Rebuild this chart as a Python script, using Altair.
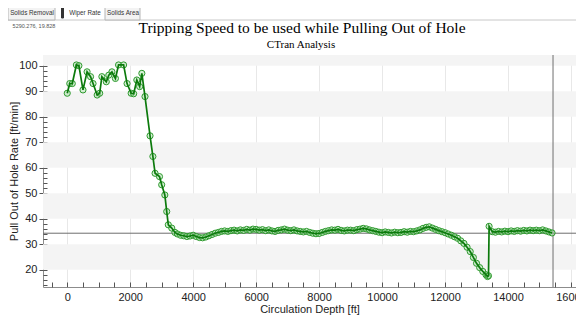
import altair as alt
import pandas as pd

# ---- data ----
depth = [0, 80, 160, 290, 370, 500, 630, 740, 820, 950, 1030, 1100, 1240, 1320, 1420,
         1530, 1630, 1790, 1900, 2030, 2110, 2210, 2300, 2370, 2470, 2630, 2720, 2790,
         2930, 3000, 3100, 3160, 3210, 3320, 3420,
         3500, 3600, 3700, 3800, 3900, 4000, 4100, 4200, 4300, 4400, 4500, 4600, 4700,
         4800, 4900, 5000, 5100, 5200, 5300, 5400, 5500, 5600, 5700, 5800, 5900, 6000,
         6100, 6200, 6300, 6400, 6500, 6600, 6700, 6800, 6900, 7000, 7100, 7200, 7300,
         7400, 7500, 7600, 7700, 7800, 7900, 8000, 8100, 8200, 8300, 8400, 8500, 8600,
         8700, 8800, 8900, 9000, 9100, 9200, 9300, 9400, 9500, 9600, 9700, 9800, 9900,
         10000, 10100, 10200, 10300, 10400, 10500, 10600, 10700, 10800, 10900, 11000,
         11100, 11200, 11300, 11400, 11500, 11600, 11700, 11800, 11900, 12000, 12100,
         12200, 12300, 12400, 12500, 12600, 12700, 12800, 12900, 13000, 13100, 13200,
         13300, 13350, 13380, 13400, 13500, 13600, 13700, 13800, 13900, 14000, 14100,
         14200, 14300, 14400, 14500, 14600, 14700, 14800, 14900, 15000, 15100, 15200,
         15300, 15400]
rate = [89.2, 93.0, 93.0, 100.3, 100.0, 90.5, 97.6, 95.7, 93.0, 88.5, 89.2, 95.7, 93.7,
        96.3, 97.6, 95.0, 100.3, 100.3, 93.0, 89.2, 89.0, 94.4, 91.8, 97.0, 87.9, 72.5,
        64.4, 57.8, 56.5, 53.3, 49.3, 42.8, 37.6, 36.3, 34.6,
        34.0, 33.5, 33.3, 33.0, 33.2, 33.5, 33.0, 32.6, 32.5, 32.8, 33.3, 33.8, 34.3,
        34.6, 35.0, 35.2, 35.0, 35.3, 35.5, 35.2, 35.6, 35.4, 35.8, 35.5, 35.9, 35.8,
        35.5, 35.7, 35.3, 35.6, 35.2, 35.0, 35.4, 35.6, 35.9, 35.5, 35.3, 35.6, 35.2,
        35.0, 34.8, 35.0, 34.6, 34.3, 34.1, 34.2, 34.6, 35.0, 35.3, 35.6, 35.5, 35.8,
        35.4, 35.2, 35.5, 35.5, 35.3, 35.7, 35.9, 36.2, 36.0, 35.6, 35.3, 35.0, 34.7,
        34.5, 34.8, 34.6, 34.4, 34.7, 34.5, 34.6, 34.9, 34.7, 35.0, 34.9,
        35.2, 35.6, 36.2, 36.6, 36.8, 36.3, 35.8, 35.3, 34.9, 34.5, 34.0,
        33.5, 32.9, 32.3, 31.3, 30.3, 28.8, 27.1, 24.8, 22.5, 20.8, 19.3,
        18.0, 17.3, 17.6, 37.0, 34.9, 34.7, 35.0, 34.8, 35.1, 34.9, 35.2,
        35.0, 35.3, 35.1, 35.4, 35.2, 35.5, 35.3, 35.5, 35.3, 35.6, 35.2,
        34.8, 34.4]

band_lo = [20, 40, 60, 80, 100]
band_hi = [30, 50, 70, 90, 110]
x_ticks = [0, 2000, 4000, 6000, 8000, 10000, 12000, 14000, 16000]
x_minor = [-500, 0, 500, 1000, 1500, 2000, 2500, 3000, 3500, 4000, 4500, 5000, 5500,
           6000, 6500, 7000, 7500, 8000, 8500, 9000, 9500, 10000, 10500, 11000, 11500,
           12000, 12500, 13000, 13500, 14000, 14500, 15000, 15500, 16000]
y_ticks = [20, 30, 40, 50, 60, 70, 80, 90, 100]
y_minor = [14, 16, 18, 20, 22, 24, 26, 28, 30, 32, 34, 36, 38, 40, 42, 44, 46, 48, 50,
           52, 54, 56, 58, 60, 62, 64, 66, 68, 70, 72, 74, 76, 78, 80, 82, 84, 86, 88,
           90, 92, 94, 96, 98, 100, 102, 104]
ref_rate = [34.3]
ref_depth = [15430]

title_text = "Tripping Speed to be used while Pulling Out of Hole"
subtitle_text = "CTran Analysis"
x_title = "Circulation Depth [ft]"
y_title = "Pull Out of Hole Rate [ft/min]"

W, H = 533, 232
xs = alt.Scale(domain=[-770, 16160], nice=False, zero=False)
ys = alt.Scale(domain=[13.2, 104.2], nice=False, zero=False)

df = pd.DataFrame({"depth": depth, "rate": rate})
bands_df = pd.DataFrame({"lo": band_lo, "hi": band_hi})

FONT = "Liberation Sans"

bands = alt.Chart(bands_df).mark_rect(color="#f4f4f4", clip=True).encode(
    x=alt.value(0), x2=alt.value(W),
    y=alt.Y("lo:Q", scale=ys, axis=None), y2="hi:Q")

main_axes = alt.Chart(df).mark_point(opacity=0).encode(
    x=alt.X("depth:Q", scale=xs, axis=alt.Axis(
        values=x_ticks, orient="bottom", ticks=False, domain=False, grid=True,
        gridColor="#e8e8e8", labelPadding=4, title=x_title, titlePadding=1,
        format="d", labelFlush=False)),
    y=alt.Y("rate:Q", scale=ys, axis=alt.Axis(
        values=y_ticks, orient="left", tickSize=4, tickColor="#555", domain=False,
        grid=False, labelPadding=2, title=y_title, titleX=-29, titleY=H / 2,
        titleBaseline="middle", titleAngle=270, titleAlign="center")))

x_minor_df = pd.DataFrame({"v": x_minor})
x_minor_axis = alt.Chart(x_minor_df).mark_point(opacity=0).encode(
    x=alt.X("v:Q", scale=xs, axis=alt.Axis(
        values=x_minor, orient="bottom", offset=-5, tickSize=5, tickColor="#555",
        labels=False, domain=False, grid=False, title=None)))

y_minor_df = pd.DataFrame({"v": y_minor})
y_minor_axis = alt.Chart(y_minor_df).mark_point(opacity=0).encode(
    y=alt.Y("v:Q", scale=ys, axis=alt.Axis(
        values=y_minor, orient="left", offset=-4, tickSize=4, tickColor="#555",
        labels=False, domain=False, grid=False, title=None)))

hrule = alt.Chart(pd.DataFrame({"r": ref_rate})).mark_rule(color="#6e6e6e", strokeWidth=1).encode(
    y=alt.Y("r:Q", scale=ys, axis=None))
vrule = alt.Chart(pd.DataFrame({"d": ref_depth})).mark_rule(color="#6e6e6e", strokeWidth=1).encode(
    x=alt.X("d:Q", scale=xs, axis=None))

points = alt.Chart(df).mark_circle(
    size=38, fill="#9edb9e", fillOpacity=0.45, stroke="#2e9a2e", strokeWidth=1,
    opacity=1, clip=True).encode(
    x=alt.X("depth:Q", scale=xs, axis=None),
    y=alt.Y("rate:Q", scale=ys, axis=None))

line = alt.Chart(df).mark_line(color="#0c7a0c", strokeWidth=1.7, clip=True).encode(
    x=alt.X("depth:Q", scale=xs, axis=None),
    y=alt.Y("rate:Q", scale=ys, axis=None),
    order="depth:Q")

one = pd.DataFrame({"a": [0]})


def txt(s, x, y, size, color="#333", align="center", font=FONT):
    return alt.Chart(one).mark_text(text=s, font=font, fontSize=size, color=color,
                                    align=align, baseline="middle").encode(
        x=alt.value(x), y=alt.value(y))


def box(x1, x2, y1, y2, fill, stroke):
    return alt.Chart(one).mark_rect(fill=fill, stroke=stroke, strokeWidth=1).encode(
        x=alt.value(x1), x2=alt.value(x2), y=alt.value(y1), y2=alt.value(y2))


tabline = alt.Chart(one).mark_rule(color="#c8c8c8").encode(
    x=alt.value(-35), x2=alt.value(W), y=alt.value(-35))
tab1 = box(-35, 12, -49, -35, "#f3f3f3", "#b5b5b5")
tab3 = box(62, 97, -49, -35, "#f3f3f3", "#b5b5b5")
icon = box(18.5, 20.5, -47, -37, "#333", "#333")
t1 = txt("Solids Removal", -11, -42, 6.3)
t2 = txt("Wiper Rate", 42, -42, 6.3)
t3 = txt("Solids Area", 80, -42, 6.3)
coords = txt("5290.276, 19.828", -9, -29, 5.5, "#555")
title = txt(title_text, 259, -27, 15.5, "#000", font="Liberation Serif")
subtitle = txt(subtitle_text, 258, -10, 11, "#000", font="Liberation Serif")

chart = alt.layer(
    bands, main_axes, x_minor_axis, y_minor_axis, hrule, vrule, points, line,
    tabline, tab1, tab3, icon, t1, t2, t3, coords, title, subtitle
).resolve_axis(x="independent", y="independent").properties(
    width=W, height=H,
    autosize=alt.AutoSizeParams(type="none"),
    padding={"left": 35, "top": 47, "right": 0, "bottom": 30},
).configure_view(stroke="#8c8c8c", strokeWidth=1).configure_axis(
    labelFont=FONT, labelFontSize=11, labelColor="#222",
    titleFont=FONT, titleFontSize=11, titleFontWeight="normal", titleColor="#222")

chart.save("out.html", embed_options={"renderer": "svg", "actions": False})
